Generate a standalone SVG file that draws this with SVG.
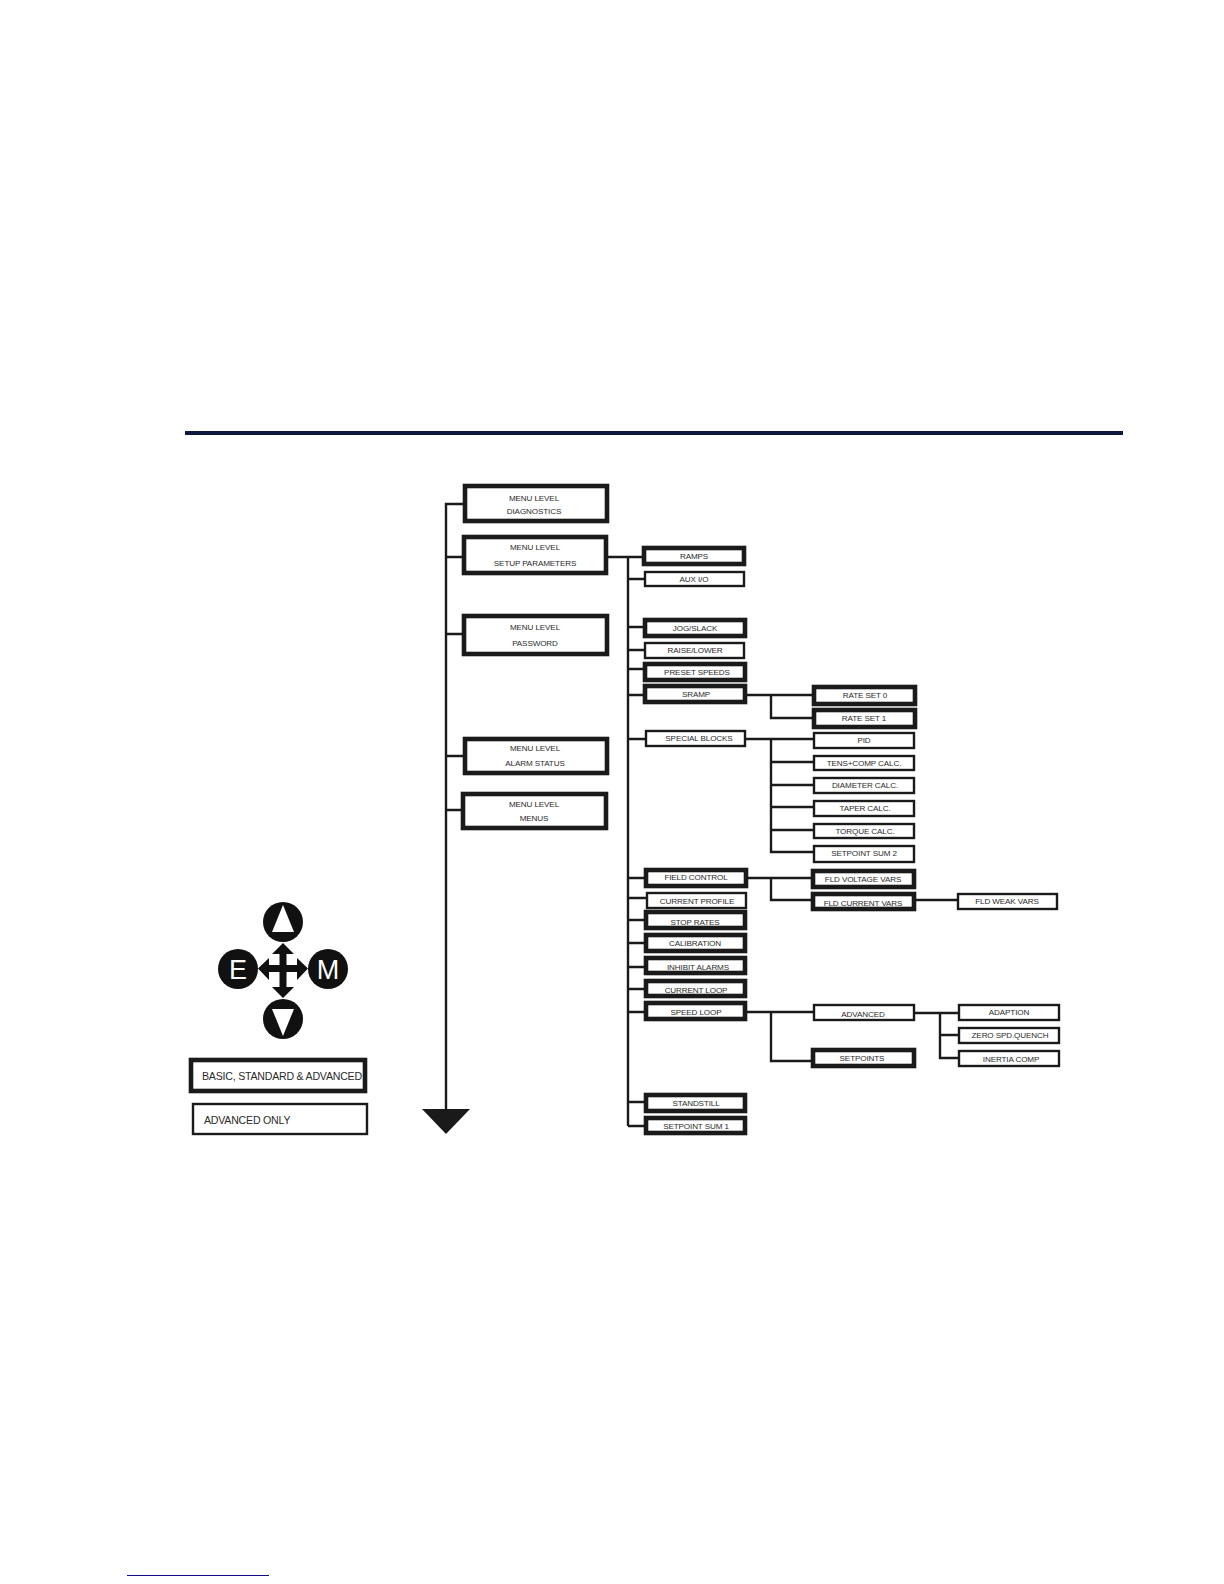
<svg xmlns="http://www.w3.org/2000/svg" width="1224" height="1584" viewBox="0 0 1224 1584">
<style>
text{font-family:"Liberation Sans",Arial,sans-serif;fill:#2a2a2a;text-anchor:middle;font-size:8.1px;letter-spacing:-.12px}
.k{fill:#fff;stroke:#1a1a1a;stroke-width:4.6}
.n{fill:#fff;stroke:#1a1a1a;stroke-width:2.4}
.c{fill:none;stroke:#1a1a1a;stroke-width:2.4}
text.lg{font-size:10.6px;text-anchor:start;letter-spacing:-.22px}
text.key{font-size:27px;fill:#fff;letter-spacing:0}
</style>
<rect width="1224" height="1584" fill="#fff"/>
<rect x="185" y="431" width="938" height="4" fill="#0c1a3e"/>
<rect x="127" y="1575" width="142" height="1" fill="#10108a"/>
<g id="connectors">
<path class="c" d="M446 1112V504H463M446 557H462M446 634H462M446 756H463M446 810H461"/>
<path class="c" d="M608 557H642M628 557V1126M628 579H644M628 627H643M628 650H644M628 669H643M628 695H643M628 739H645M628 878H644M628 898H646M628 920H644M628 943H644M628 967H644M628 989H644M628 1012H644M628 1102H644M628 1126H644"/>
<path class="c" d="M747 695H812M771 695V718H812"/>
<path class="c" d="M746 739H813M771 739V852H813M771 762H813M771 785H813M771 807H813M771 830H813"/>
<path class="c" d="M748 878H811M771 878V900H811M916 900H957"/>
<path class="c" d="M747 1012H813M771 1012V1061H811M915 1013H958M940 1013V1058H958M940 1035H958"/>
<path d="M422 1109H470L446 1134Z" fill="#1a1a1a"/>
</g>
<g id="n-diagnostics"><rect class="k" x="465" y="486" width="142" height="35"/><text x="534" y="500.500">MENU LEVEL</text><text x="534" y="514">DIAGNOSTICS</text></g>
<g id="n-setup"><rect class="k" x="464" y="537" width="142" height="36"/><text x="535" y="550">MENU LEVEL</text><text x="535" y="566">SETUP PARAMETERS</text></g>
<g id="n-password"><rect class="k" x="464" y="616" width="143" height="38"/><text x="535" y="630">MENU LEVEL</text><text x="535" y="645.500">PASSWORD</text></g>
<g id="n-alarm"><rect class="k" x="465" y="739" width="142" height="34"/><text x="535" y="751">MENU LEVEL</text><text x="535" y="766">ALARM STATUS</text></g>
<g id="n-menus"><rect class="k" x="463" y="794" width="143" height="34"/><text x="534" y="807">MENU LEVEL</text><text x="534" y="821">MENUS</text></g>
<g id="n-ramps"><rect class="k" x="644" y="548" width="100" height="16"/><text x="694" y="559">RAMPS</text></g>
<g id="n-aux"><rect class="n" x="645" y="572" width="99" height="14"/><text x="694" y="582">AUX I/O</text></g>
<g id="n-jog"><rect class="k" x="645" y="620" width="100" height="16"/><text x="695" y="631">JOG/SLACK</text></g>
<g id="n-raise"><rect class="n" x="645" y="643" width="99" height="15"/><text x="695" y="653">RAISE/LOWER</text></g>
<g id="n-preset"><rect class="k" x="645" y="664" width="100" height="16"/><text x="697" y="675">PRESET SPEEDS</text></g>
<g id="n-sramp"><rect class="k" x="645" y="686" width="100" height="16"/><text x="696" y="697">SRAMP</text></g>
<g id="n-special"><rect class="n" x="646" y="731" width="99" height="15"/><text x="699" y="741">SPECIAL BLOCKS</text></g>
<g id="n-rate0"><rect class="k" x="814" y="687" width="101" height="17"/><text x="865" y="698">RATE SET 0</text></g>
<g id="n-rate1"><rect class="k" x="814" y="710" width="101" height="17"/><text x="864" y="721">RATE SET 1</text></g>
<g id="n-pid"><rect class="n" x="814" y="733" width="100" height="15"/><text x="864" y="743">PID</text></g>
<g id="n-tens"><rect class="n" x="814" y="756" width="100" height="14"/><text x="864" y="766">TENS+COMP CALC.</text></g>
<g id="n-diameter"><rect class="n" x="814" y="778" width="100" height="15"/><text x="865" y="788">DIAMETER CALC.</text></g>
<g id="n-taper"><rect class="n" x="814" y="801" width="100" height="15"/><text x="865" y="811">TAPER CALC.</text></g>
<g id="n-torque"><rect class="n" x="814" y="824" width="100" height="14"/><text x="865" y="834">TORQUE CALC.</text></g>
<g id="n-sum2"><rect class="n" x="814" y="846" width="100" height="16"/><text x="864" y="856">SETPOINT SUM 2</text></g>
<g id="n-field"><rect class="k" x="646" y="870" width="100" height="16"/><text x="696" y="880">FIELD CONTROL</text></g>
<g id="n-fldv"><rect class="k" x="813" y="871" width="101" height="16"/><text x="863" y="881.500">FLD VOLTAGE VARS</text></g>
<g id="n-profile"><rect class="n" x="647" y="893" width="99" height="15"/><text x="697" y="904">CURRENT PROFILE</text></g>
<g id="n-fldc"><rect class="k" x="813" y="894" width="101" height="15"/><text x="863" y="906">FLD CURRENT VARS</text></g>
<g id="n-weak"><rect class="n" x="958" y="894" width="99" height="15"/><text x="1007" y="904">FLD WEAK VARS</text></g>
<g id="n-stop"><rect class="k" x="646" y="912" width="99" height="16"/><text x="695" y="925">STOP RATES</text></g>
<g id="n-cal"><rect class="k" x="646" y="935" width="99" height="16"/><text x="695" y="946">CALIBRATION</text></g>
<g id="n-inhibit"><rect class="k" x="646" y="958" width="99" height="15"/><text x="698" y="970">INHIBIT ALARMS</text></g>
<g id="n-curloop"><rect class="k" x="646" y="981" width="99" height="15"/><text x="696" y="993">CURRENT LOOP</text></g>
<g id="n-speed"><rect class="k" x="646" y="1003" width="99" height="16"/><text x="696" y="1015">SPEED LOOP</text></g>
<g id="n-standstill"><rect class="k" x="646" y="1095" width="99" height="16"/><text x="696" y="1106">STANDSTILL</text></g>
<g id="n-sum1"><rect class="k" x="646" y="1118" width="99" height="15"/><text x="696" y="1129">SETPOINT SUM 1</text></g>
<g id="n-advanced"><rect class="n" x="814" y="1005" width="100" height="15"/><text x="863" y="1017">ADVANCED</text></g>
<g id="n-setpoints"><rect class="k" x="813" y="1050" width="101" height="16"/><text x="862" y="1061">SETPOINTS</text></g>
<g id="n-adaption"><rect class="n" x="959" y="1005" width="100" height="15"/><text x="1009" y="1015">ADAPTION</text></g>
<g id="n-zero"><rect class="n" x="959" y="1028" width="100" height="15"/><text x="1010" y="1038">ZERO SPD.QUENCH</text></g>
<g id="n-inertia"><rect class="n" x="959" y="1051" width="100" height="15"/><text x="1011" y="1062">INERTIA COMP</text></g>
<g id="keypad">
<circle cx="283" cy="922" r="20" fill="#111"/><path d="M283 905L272 932H294Z" fill="#fff"/>
<circle cx="283" cy="1019" r="20" fill="#111"/><path d="M272 1009H294L283 1036Z" fill="#fff"/>
<circle cx="238" cy="969" r="20" fill="#111"/><text class="key" x="238" y="979">E</text>
<circle cx="328" cy="969" r="20" fill="#111"/><text class="key" x="328" y="979">M</text>
<path d="M283 943L294 954H286.500V965H297V958L308 968.500L297 980V972H286.500V987H294L283 998L272 987H279.500V972H269V980L258 968.500L269 958V965H279.500V954H272Z" fill="#111"/>
</g>
<g id="legend-basic"><rect class="k" x="191" y="1060" width="174" height="31"/><text class="lg" x="202" y="1080">BASIC, STANDARD &amp; ADVANCED</text></g>
<g id="legend-advanced"><rect class="n" x="193" y="1104" width="174" height="30"/><text class="lg" x="204" y="1124">ADVANCED ONLY</text></g>
</svg>
